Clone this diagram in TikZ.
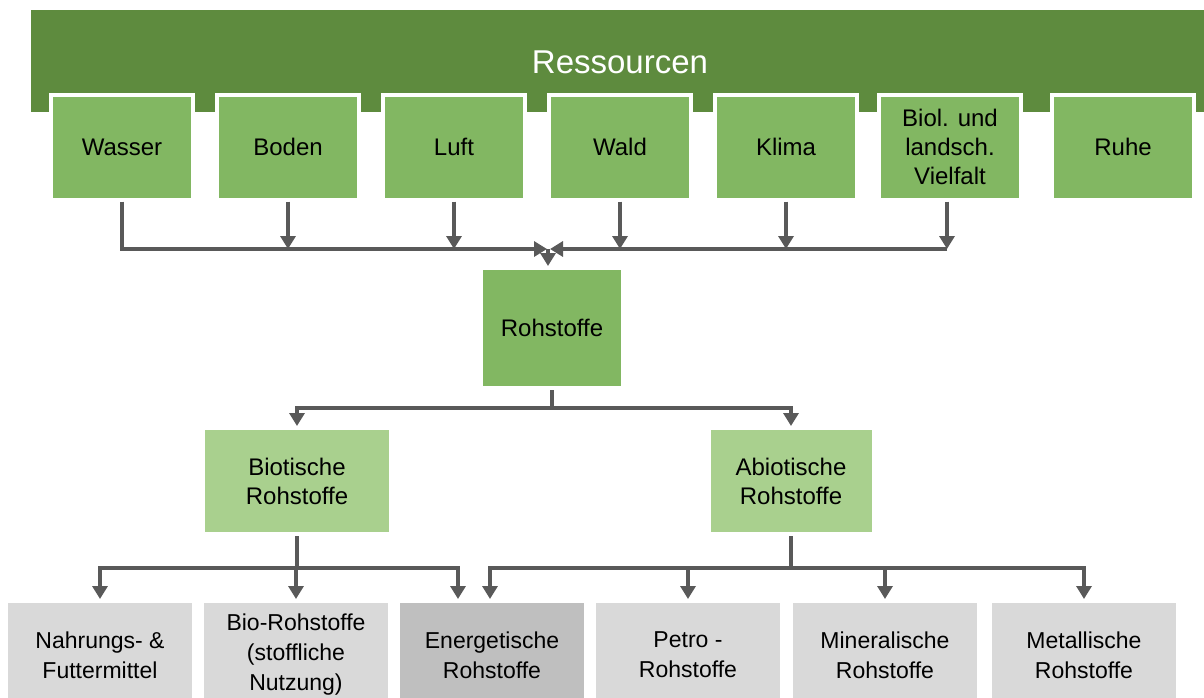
\documentclass[tikz,border=0pt]{standalone}
\usepackage{fontspec}
\setmainfont{Liberation Sans}
\usetikzlibrary{arrows.meta}
\definecolor{resdark}{RGB}{94,139,62}
\definecolor{resgreen}{RGB}{130,183,98}
\definecolor{rohlight}{RGB}{169,208,142}
\definecolor{leafgrey}{RGB}{217,217,217}
\definecolor{leafdark}{RGB}{191,191,191}
\definecolor{linkgrey}{RGB}{89,89,89}

\begin{document}
\begin{tikzpicture}[x=1pt,y=-1pt,
  every node/.style={font=\fontsize{24}{29}\selectfont,align=center,inner sep=0pt},
  box/.style={draw=white,line width=4pt,minimum width=142pt,minimum height=105pt},
  topbox/.style={box,fill=resgreen},
  subbox/.style={box,fill=rohlight,minimum height=106pt},
  leafbox/.style={box,fill=leafgrey,minimum width=188pt,minimum height=108pt,
                  font=\fontsize{23}{30}\selectfont},
  link/.style={draw=linkgrey,line width=4pt},
  arr/.style={link,-{Triangle[width=15pt,length=13pt]}}]

\useasboundingbox (0,0) rectangle (1204,697);
\clip (0,0) rectangle (1204,697);

% --- banner
\fill[resdark] (31,10) rectangle (1204,112);
\node[text=white,font=\fontsize{33}{40}\selectfont] (res) at (620,62) {Ressourcen};

% --- top row
\foreach \x/\nm/\txt in {122/wasser/Wasser, 288/boden/Boden, 454/luft/Luft,
    620/wald/Wald, 786/klima/Klima, 950/biol/Biol. und\\landsch.\\Vielfalt,
    1123/ruhe/Ruhe}
  \node[topbox] (\nm) at (\x,147) {\txt};

% --- middle
\node[topbox,minimum height=120pt] (roh) at (552,328) {Rohstoffe};
\node[subbox,minimum width=188pt] (bio) at (297,481) {Biotische\\Rohstoffe};
\node[subbox,minimum width=165pt] (abio) at (791,481) {Abiotische\\Rohstoffe};

% --- bottom row
\node[leafbox] (nahr) at (100,655) {Nahrungs- \&\\Futtermittel};
\node[leafbox] (biostoff) at (296,655) {Bio-Rohstoffe\\(stoffliche\\Nutzung)};
\node[leafbox,fill=leafdark] (energ) at (492,655) {Energetische\\Rohstoffe};
\node[leafbox] (petro) at (688,655) {Petro -\\Rohstoffe};
\node[leafbox] (miner) at (885,655) {Mineralische\\Rohstoffe};
\node[leafbox] (metall) at (1084,655) {Metallische\\Rohstoffe};

% --- connectors top
\coordinate (hub) at (548,249);
\draw[arr] (wasser.south) |- ([xshift=-1pt]hub);
\foreach \nm in {boden,luft,wald,klima}
  \draw[arr] (\nm.south) -- (\nm.south |- hub);
\draw[arr] ([xshift=-3pt]biol.south) -- ([xshift=-3pt]biol.south |- hub);
\draw[arr] ([xshift=-3pt]biol.south |- hub) -- ([xshift=2pt]hub);
\draw[arr] (hub) -- (hub |- roh.north);

% --- connectors middle
\coordinate (rohbus) at (552,408);
\draw[link] (roh.south) -- (rohbus);
\draw[arr] (rohbus) -| (bio.north);
\draw[arr] (rohbus) -| (abio.north);

% --- connectors bottom
\coordinate (biobus) at (297,568);
\draw[link] (bio.south) -- (biobus);
\draw[arr] (biobus) -| (nahr.north);
\draw[arr] (biobus) -| (biostoff.north);
\draw[arr] (biobus) -| ([xshift=-34pt]energ.north);
\coordinate (abiobus) at (791,568);
\draw[link] (abio.south) -- (abiobus);
\draw[arr] (abiobus) -| ([xshift=-2pt]energ.north);
\foreach \nm in {petro,miner,metall}
  \draw[arr] (abiobus) -| (\nm.north);
\end{tikzpicture}
\end{document}
